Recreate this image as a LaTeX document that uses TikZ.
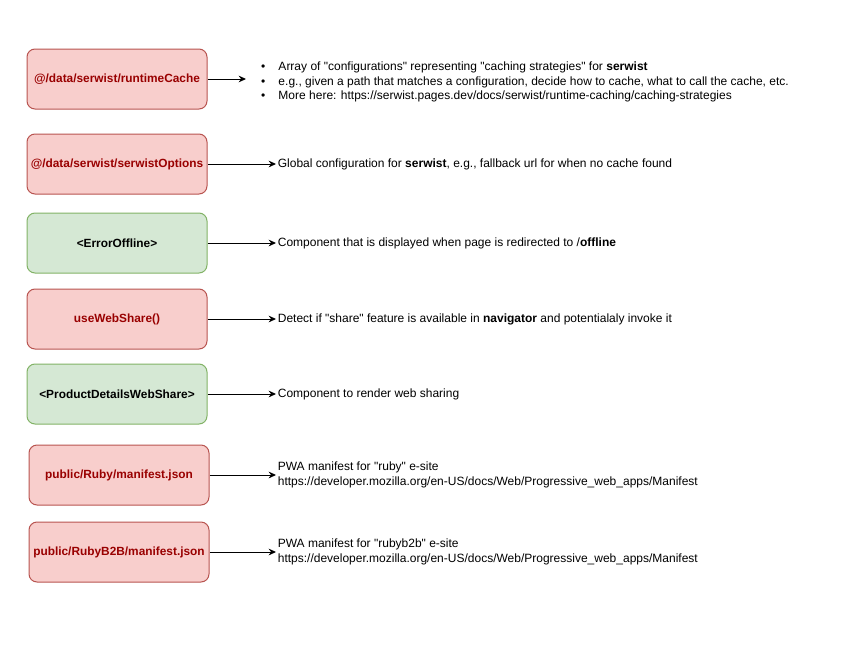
\documentclass[tikz,border=0pt]{standalone}
\usepackage{fontspec}
\setmainfont{Liberation Sans}[Ligatures=TeXOff]
\usetikzlibrary{arrows.meta}
\definecolor{redfill}{HTML}{F8CECC}
\definecolor{redline}{HTML}{B85450}
\definecolor{redtext}{HTML}{990000}
\definecolor{greenfill}{HTML}{D5E8D4}
\definecolor{greenline}{HTML}{82B366}
\newcommand{\bul}{\makebox[24pt][l]{\hspace{11pt}\textbullet}}
\newcommand{\mdnurl}{https://developer.mozilla.org/en-US/docs/Web/Progressive\_web\_apps/Manifest}
\begin{document}
\begin{tikzpicture}[x=0.75pt, y=-0.75pt, line width=0.75pt,
    font=\fontsize{9}{10.8}\selectfont,
    box/.style={rounded corners=6pt, minimum width=135pt, minimum height=45pt,
        inner xsep=0pt, font=\fontsize{8.9}{10.8}\selectfont\bfseries},
    redbox/.style={box, fill=redfill, draw=redline, text=redtext},
    greenbox/.style={box, fill=greenfill, draw=greenline, text=black},
    note/.style={anchor=west, align=left, inner sep=0pt, inner xsep=1pt},
    link/.style={-{Stealth[length=5.5pt, width=5pt]}}]
    \useasboundingbox (0,0) rectangle (842,671);
    % boxes
    \node[redbox] (cache) at (117,79) {@/data/serwist/runtimeCache};
    \node[redbox] (opts) at (117,164) {@/data/serwist/serwistOptions};
    \node[greenbox] (offline) at (117,243) {<ErrorOffline>};
    \node[redbox] (share) at (117,319) {useWebShare()};
    \node[greenbox] (details) at (117,394) {<ProductDetailsWebShare>};
    \node[redbox] (ruby) at (119,475) {public/Ruby/manifest.json};
    \node[redbox] (rubyb) at (119,552) {public/RubyB2B/manifest.json};
    % notes
    \node[note, inner xsep=0pt] (tcache) at (246,82) {%
        \bul Array of "configurations" representing "caching strategies" for \textbf{serwist}\\
        \bul e.g., given a path that matches a configuration, decide how to cache, what to call the cache, etc.\\
        \bul More here: https://serwist.pages.dev/docs/serwist/runtime-caching/caching-strategies};
    \node[note] (topts) at (276,164) {Global configuration for \textbf{serwist}, e.g., fallback url for when no cache found};
    \node[note] (toffline) at (276,243) {Component that is displayed when page is redirected to /\textbf{offline}};
    \node[note] (tshare) at (276,319) {Detect if "share" feature is available in \textbf{navigator} and potentialaly invoke it};
    \node[note] (tdetails) at (276,394) {Component to render web sharing};
    \node[note] (truby) at (276,475) {PWA manifest for "ruby" e-site\\\mdnurl};
    \node[note] (trubyb) at (276,552) {PWA manifest for "rubyb2b" e-site\\\mdnurl};
    % arrows
    \draw[link] (cache) -- (cache -| tcache.west);
    \foreach \n in {opts, offline, share, details, ruby, rubyb}
        \draw[link] (\n) -- (t\n);
\end{tikzpicture}
\end{document}
